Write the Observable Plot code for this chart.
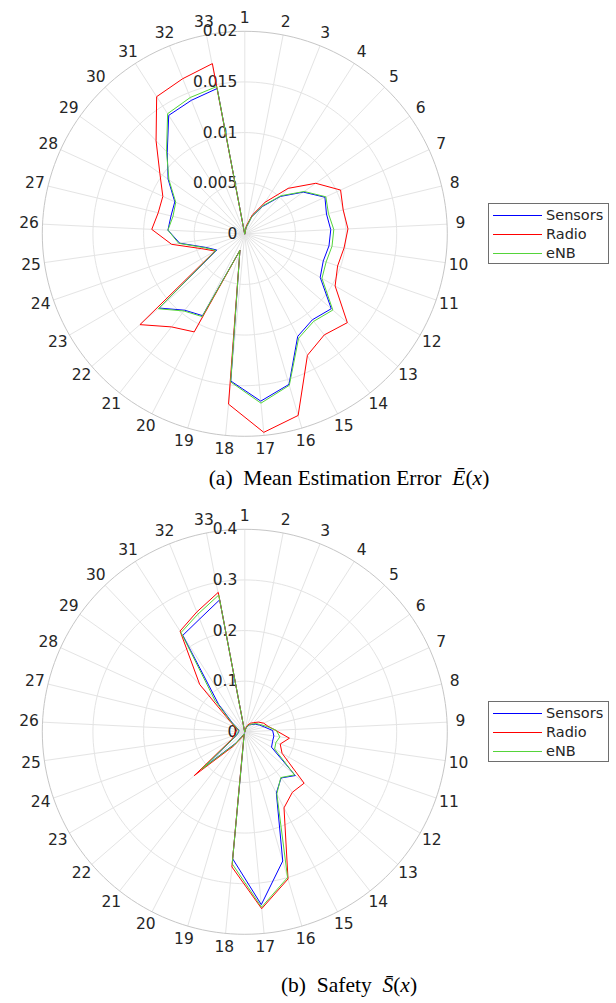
<!DOCTYPE html>
<html><head><meta charset="utf-8">
<script src="https://cdn.jsdelivr.net/npm/d3@7"></script>
<script src="https://cdn.jsdelivr.net/npm/@observablehq/plot@0.6"></script>
<style>
body{margin:0;background:#fff;width:616px;height:1003px;position:relative;overflow:hidden;font-family:"DejaVu Sans",sans-serif;}
.fig{position:absolute;left:0;width:616px;}
.legend{position:absolute;border:1px solid #6e6e6e;background:#fff;box-sizing:border-box;}
.litem{position:absolute;left:0;width:100%;height:19px;}
.lline{position:absolute;left:4px;width:49px;top:9px;height:1px;}
.ltext{position:absolute;left:57px;top:0;line-height:19px;font-size:14.5px;color:#262626;white-space:nowrap;}
.caption{position:absolute;font-family:"Liberation Serif","Times New Roman",serif;font-size:21.5px;line-height:21.5px;color:#000;white-space:nowrap;transform:translateX(-50%);}
</style></head>
<body>
<div id="root"></div>
<script>
// ---- data ----
const spokes = d3.range(1, 34); // direction labels 1..33
const seriesNames = ["Sensors", "Radio", "eNB"];
const seriesColors = ["#0000ff", "#ff0000", "#55d43a"];

// (a) Mean Estimation Error
const sensorsA = [0, 0.0006, 0.0018, 0.0032, 0.0051, 0.0071, 0.0087, 0.0083, 0.0085, 0.0084, 0.0082, 0.0086, 0.0113, 0.0108, 0.0114, 0.0155, 0.0166, 0.0146, 0.0017, 0.0091, 0.0096, 0.0112, 0.0032, 0.0041, 0.0065, 0.0076, 0.0075, 0.0076, 0.0093, 0.0111, 0.0139, 0.0142, 0.0146];
const radioA   = [0, 0.0008, 0.0020, 0.0037, 0.0062, 0.0086, 0.0104, 0.0100, 0.0102, 0.0099, 0.0097, 0.0103, 0.0134, 0.0127, 0.0135, 0.0187, 0.0197, 0.0169, 0.0017, 0.0109, 0.0117, 0.0137, 0.0034, 0.0045, 0.0073, 0.0092, 0.0088, 0.0089, 0.0103, 0.0127, 0.0161, 0.0165, 0.0171];
const enbA     = [0, 0.0006, 0.0018, 0.0033, 0.0052, 0.0072, 0.0088, 0.0085, 0.0088, 0.0087, 0.0085, 0.0088, 0.0115, 0.0110, 0.0116, 0.0156, 0.0168, 0.0147, 0.0017, 0.0092, 0.0097, 0.0113, 0.0033, 0.0042, 0.0066, 0.0076, 0.0073, 0.0075, 0.0092, 0.0112, 0.0141, 0.0145, 0.0148];
const rTicksA = [0, 0.005, 0.01, 0.015, 0.02];
const rTickLabelsA = ["0", "0.005", "0.01", "0.015", "0.02"];

// (b) Safety
const sensorsB = [0, 0.004, 0.010, 0.016, 0.020, 0.026, 0.032, 0.040, 0.055, 0.058, 0.058, 0.061, 0.132, 0.116, 0.136, 0.266, 0.343, 0.252, 0.004, 0.008, 0.028, 0.110, 0.025, 0.016, 0.013, 0.012, 0.012, 0.016, 0.030, 0.075, 0.2265, 0.240, 0.265];
const radioB   = [0, 0.006, 0.014, 0.020, 0.025, 0.033, 0.041, 0.047, 0.061, 0.089, 0.074, 0.085, 0.155, 0.152, 0.169, 0.303, 0.351, 0.268, 0.005, 0.012, 0.035, 0.132, 0.030, 0.022, 0.020, 0.018, 0.015, 0.020, 0.036, 0.129, 0.2365, 0.255, 0.280];
const enbB     = [0, 0.004, 0.011, 0.017, 0.021, 0.028, 0.034, 0.045, 0.062, 0.070, 0.065, 0.068, 0.130, 0.115, 0.138, 0.300, 0.348, 0.262, 0.004, 0.008, 0.030, 0.113, 0.026, 0.017, 0.014, 0.013, 0.013, 0.017, 0.032, 0.085, 0.233, 0.250, 0.2746];
const rTicksB = [0, 0.1, 0.2, 0.3, 0.4];
const rTickLabelsB = ["0", "0.1", "0.2", "0.3", "0.4"];

// ---- drawing ----
const n = spokes.length;
function radar(seriesValues, ticks, tickLabels) {
  const rMax = ticks[ticks.length - 1];
  const R = 80;                               // outer ring, in degrees of the projection
  const lon = k => 180 - (k - 1) * 360 / n;   // 1 at top, clockwise
  const lat = v => 90 - v / rMax * R;
  const labelLat = 90 - R * 216 / 202.5;
  const circle = t => d3.geoCircle().center([0, 90]).radius(90 - lat(t)).precision(2)();
  const marks = [
    Plot.geo(ticks.slice(1, -1), {geometry: circle, fill: "none", stroke: "#e4e4e4", strokeWidth: 1}),
    Plot.link(spokes, {x1: k => lon(k), y1: () => 90, x2: k => lon(k), y2: () => lat(rMax), stroke: "#e4e4e4", strokeWidth: 1}),
    Plot.geo([rMax], {geometry: circle, fill: "none", stroke: "#c6c6c6", strokeWidth: 1}),
    Plot.text(ticks, {x: () => 180, y: t => lat(t), text: (t, i) => tickLabels[i], textAnchor: "end", dx: -7.5, fontSize: 15.5, fill: "#262626", fontFamily: "DejaVu Sans"}),
    Plot.text(spokes, {x: k => lon(k), y: () => labelLat, text: k => String(k), fontSize: 15.5, fill: "#262626", fontFamily: "DejaVu Sans"})
  ];
  seriesValues.forEach((vals, s) => {
    const rows = vals.map((v, i) => ({k: spokes[i], v}));
    marks.push(Plot.line(rows, {x: d => lon(d.k), y: d => lat(d.v), stroke: seriesColors[s], strokeWidth: 1, curve: "linear-closed"}));
  });
  return Plot.plot({
    width: 616, height: 465,
    marginLeft: 41.8, marginRight: 169.2, marginTop: 30.8, marginBottom: 29.2,
    projection: {type: "azimuthal-equidistant", rotate: [0, -90], clip: false, domain: d3.geoCircle().center([0, 90]).radius(R)()},
    style: {background: "transparent", overflow: "visible"},
    marks
  });
}

function legend(top) {
  const box = document.createElement("div");
  box.className = "legend";
  Object.assign(box.style, {left: "488px", top: top + "px", width: "121px", height: "61px"});
  seriesNames.forEach((name, i) => {
    const it = document.createElement("div");
    it.className = "litem";
    it.style.top = (2 + i * 19) + "px";
    const ln = document.createElement("div");
    ln.className = "lline";
    ln.style.background = seriesColors[i];
    const tx = document.createElement("div");
    tx.className = "ltext";
    tx.textContent = name;
    it.append(ln, tx);
    box.append(it);
  });
  return box;
}

function caption(html, cx, top) {
  const d = document.createElement("div");
  d.className = "caption";
  d.style.left = cx + "px";
  d.style.top = top + "px";
  d.innerHTML = html;
  return d;
}

const root = document.getElementById("root");
const figA = document.createElement("div");
figA.className = "fig"; figA.style.top = "0px";
figA.append(radar([sensorsA, radioA, enbA], rTicksA, rTickLabelsA));
const figB = document.createElement("div");
figB.className = "fig"; figB.style.top = "498.2px";
figB.append(radar([sensorsB, radioB, enbB], rTicksB, rTickLabelsB));
root.append(figA, figB);
root.append(legend(203));
root.append(legend(700.5));
root.append(caption('(a)&nbsp; Mean Estimation Error&nbsp; <i>E&#772;</i>(<i>x</i>)', 349, 468));
root.append(caption('(b)&nbsp; Safety&nbsp; <i>S&#772;</i>(<i>x</i>)', 349, 975));
</script>
</body></html>
